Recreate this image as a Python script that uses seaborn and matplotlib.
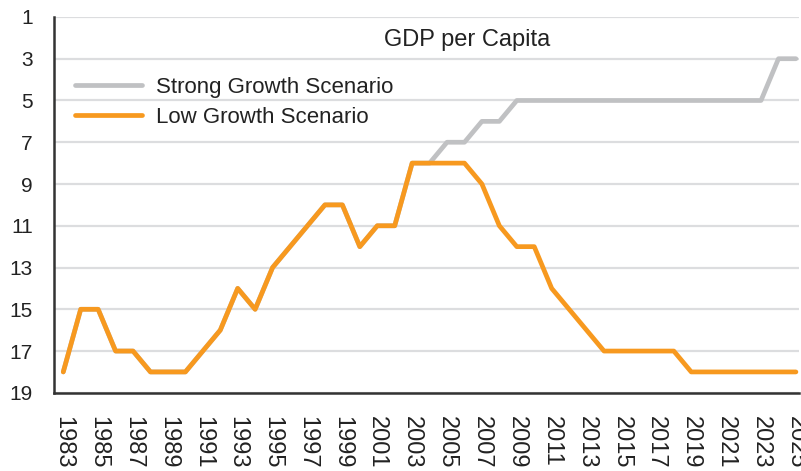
import matplotlib
matplotlib.use("Agg")
import matplotlib.pyplot as plt
import seaborn as sns
import pandas as pd

years = list(range(1983, 2026))
low_growth = [18, 15, 15, 17, 17, 18, 18, 18, 17, 16, 14, 15, 13, 12, 11, 10, 10, 12, 11, 11,
              8, 8, 8, 8, 9, 11, 12, 12, 14, 15, 16, 17, 17, 17, 17, 17,
              18, 18, 18, 18, 18, 18, 18]
strong_growth = [18, 15, 15, 17, 17, 18, 18, 18, 17, 16, 14, 15, 13, 12, 11, 10, 10, 12, 11, 11,
                 8, 8, 7, 7, 6, 6, 5, 5, 5, 5, 5, 5, 5, 5, 5, 5, 5, 5, 5, 5, 5, 3, 3]
y_ticks = list(range(1, 20, 2))
x_ticks = list(range(1983, 2026, 2))

df = pd.DataFrame({"year": years, "Strong Growth Scenario": strong_growth,
                   "Low Growth Scenario": low_growth})

sns.set_style("white")
plt.rcParams["font.family"] = ["Liberation Sans", "DejaVu Sans"]

fig = plt.figure(figsize=(8.01, 4.71), dpi=100)
ax = fig.add_axes([0.067, 0.166, 0.931, 0.798])

sns.lineplot(data=df, x="year", y="Strong Growth Scenario", color="#c0c1c3",
             linewidth=3.4, label="Strong Growth Scenario", ax=ax)
sns.lineplot(data=df, x="year", y="Low Growth Scenario", color="#f7991f",
             linewidth=3.4, label="Low Growth Scenario", ax=ax)

ax.set_ylim(19, 1)
ax.set_xlim(1982.45, 2025.2)
ax.set_yticks(y_ticks)
ax.set_xticks(x_ticks)
ax.set_xticklabels([str(y) for y in x_ticks], rotation=-90)
ax.tick_params(axis="y", labelsize=15, colors="#222222", length=0, pad=15)
ax.tick_params(axis="x", labelsize=17, colors="#222222", length=0, pad=17)
ax.set_xlabel("")
ax.set_ylabel("")

ax.grid(axis="y", color="#dcdddf", linewidth=1.6)
ax.set_axisbelow(True)
for side in ["top", "right"]:
    ax.spines[side].set_visible(False)
for side in ["left", "bottom"]:
    ax.spines[side].set_color("#333333")
    ax.spines[side].set_linewidth(1.8)

ax.text(0.555, 0.94, "GDP per Capita", transform=ax.transAxes, ha="center", va="center",
        fontsize=17, color="#222222")

ax.legend(loc="upper left", bbox_to_anchor=(0.017, 0.864), borderaxespad=0, frameon=False,
          fontsize=16, handlelength=3.0, handletextpad=0.65, labelspacing=0.4,
          labelcolor="#222222")

fig.savefig("out.png", dpi=100)
plt.close(fig)
